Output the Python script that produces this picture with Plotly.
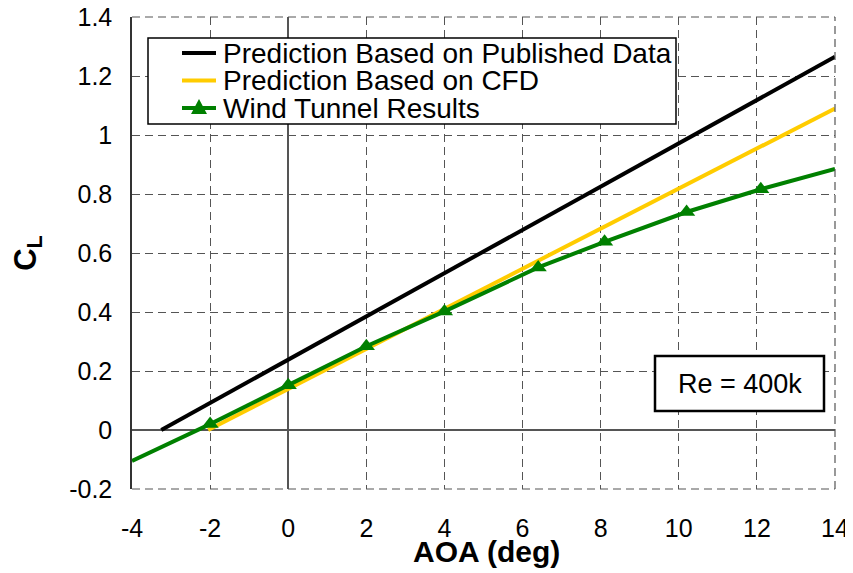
import plotly.graph_objects as go

# ---- Data ----
pub_x = [-3.25, 14]
pub_y = [0.0, 1.265]
cfd_x = [-2.05, 14]
cfd_y = [0.0, 1.09]
wt_x = [-4, -2, 0, 2, 4, 6.4, 8.1, 10.2, 12.1, 14]
wt_y = [-0.105, 0.02, 0.152, 0.284, 0.402, 0.551, 0.638, 0.739, 0.816, 0.885]
wt_pts_x = wt_x[1:-1]
wt_pts_y = wt_y[1:-1]
x_ticks = [-4, -2, 0, 2, 4, 6, 8, 10, 12, 14]
x_tick_text = ["-4", "-2", "0", "2", "4", "6", "8", "10", "12", "14"]
y_ticks = [-0.2, 0, 0.2, 0.4, 0.6, 0.8, 1, 1.2, 1.4]
y_tick_text = ["-0.2", "0", "0.2", "0.4", "0.6", "0.8", "1", "1.2", "1.4"]
series_names = ["Prediction Based on Published Data", "Prediction Based on CFD", "Wind Tunnel Results"]
series_colors = ["black", "#FFCC00", "#008000"]
re_label = "Re = 400k"
x_title = "<b>AOA (deg)</b>"
y_title = "<b>C<sub>L</sub></b>"

FONT = "Liberation Sans, Arial, sans-serif"
OFF = 8  # page body margin offset
W, H = 853 - OFF, 573 - OFF
# plot area in page pixels: x 132..835, y 17..489
ML, MR, MT, MB = 132 - OFF, 18, 17 - OFF, 84
PW, PH = W - ML - MR, H - MT - MB
PLOT_LEFT, PLOT_BOTTOM = 132, 489


def px_x(px):
    return (px - PLOT_LEFT) / PW


def px_y(py):
    return (PLOT_BOTTOM - py) / PH


fig = go.Figure()
fig.add_trace(go.Scatter(x=pub_x, y=pub_y, mode="lines", name=series_names[0], showlegend=False,
                         line=dict(color=series_colors[0], width=4), cliponaxis=False))
fig.add_trace(go.Scatter(x=cfd_x, y=cfd_y, mode="lines", name=series_names[1], showlegend=False,
                         line=dict(color=series_colors[1], width=4), cliponaxis=False))
fig.add_trace(go.Scatter(x=wt_x, y=wt_y, mode="lines", name=series_names[2], showlegend=False,
                         line=dict(color=series_colors[2], width=4), cliponaxis=False))
fig.add_trace(go.Scatter(x=wt_pts_x, y=wt_pts_y, mode="markers", name=series_names[2], showlegend=False,
                         marker=dict(symbol="triangle-up", size=15, color=series_colors[2])))

axis_common = dict(
    showgrid=True, gridcolor="#555555", griddash="8px,5px", gridwidth=1,
    zeroline=True, zerolinecolor="#555555", zerolinewidth=1.5,
    tickfont=dict(family=FONT, size=25, color="black"),
    ticklabeloverflow="allow",
)

fig.update_xaxes(range=[-4, 14], tickvals=x_ticks, ticktext=x_tick_text, showline=False,
                 ticks="", ticklabelstandoff=22, **axis_common)
fig.update_yaxes(range=[-0.2, 1.4], tickvals=y_ticks, ticktext=y_tick_text, showline=True,
                 linecolor="#333333", linewidth=1.5, mirror=False, ticks="", ticklabelstandoff=13,
                 **axis_common,
                 title=dict(text=y_title, font=dict(family=FONT, size=31, color="black"), standoff=24))

fig.update_layout(
    width=W, height=H,
    margin=dict(l=ML, r=MR, t=MT, b=MB, autoexpand=False),
    paper_bgcolor="white", plot_bgcolor="white",
    font=dict(family=FONT, color="black"),
    showlegend=False,
)

# dashed frame edges (top, right, bottom) matching the grid style
frame_dash = dict(color="#555555", width=1.2, dash="8px,5px")
fig.add_shape(type="line", xref="x domain", yref="y domain", x0=0, x1=1, y0=1, y1=1, line=frame_dash)
fig.add_shape(type="line", xref="x domain", yref="y domain", x0=1, x1=1, y0=0, y1=1, line=frame_dash)
fig.add_shape(type="line", xref="x domain", yref="y domain", x0=0, x1=1, y0=0, y1=0, line=frame_dash)

# x-axis title
fig.add_annotation(x=px_x(486), y=px_y(551), xref="paper", yref="paper", xanchor="center", yanchor="middle",
                   text=x_title, showarrow=False, font=dict(family=FONT, size=30, color="black"))

# ---- Legend (drawn manually to match compact row spacing) ----
fig.add_shape(type="rect", xref="paper", yref="paper",
              x0=px_x(148), x1=px_x(676), y0=px_y(124), y1=px_y(38),
              line=dict(color="black", width=1.5), fillcolor="white", layer="above")
rows = [53, 80.5, 108]
for name, color, ry in zip(series_names, series_colors, rows):
    fig.add_shape(type="line", xref="paper", yref="paper",
                  x0=px_x(182), x1=px_x(216), y0=px_y(ry), y1=px_y(ry),
                  line=dict(color=color, width=4), layer="above")
    fig.add_annotation(x=px_x(221), y=px_y(ry), xref="paper", yref="paper", xanchor="left", yanchor="middle",
                       text=name, showarrow=False, font=dict(family=FONT, size=28, color="black"))
# triangle marker in legend row 3
tx, ty = 199, rows[2]
fig.add_shape(type="path", xref="paper", yref="paper",
              path=f"M {px_x(tx-8)} {px_y(ty+6)} L {px_x(tx+8)} {px_y(ty+6)} L {px_x(tx)} {px_y(ty-9)} Z",
              line=dict(color=series_colors[2], width=0), fillcolor=series_colors[2], layer="above")

# ---- Re box ----
fig.add_shape(type="rect", xref="paper", yref="paper",
              x0=px_x(655), x1=px_x(824), y0=px_y(411), y1=px_y(356),
              line=dict(color="black", width=2.5), fillcolor="white", layer="above")
fig.add_annotation(x=px_x(739.5), y=px_y(383.5), xref="paper", yref="paper", xanchor="center", yanchor="middle",
                   text=re_label, showarrow=False, font=dict(family=FONT, size=27, color="black"))

fig.write_html("out.html")
